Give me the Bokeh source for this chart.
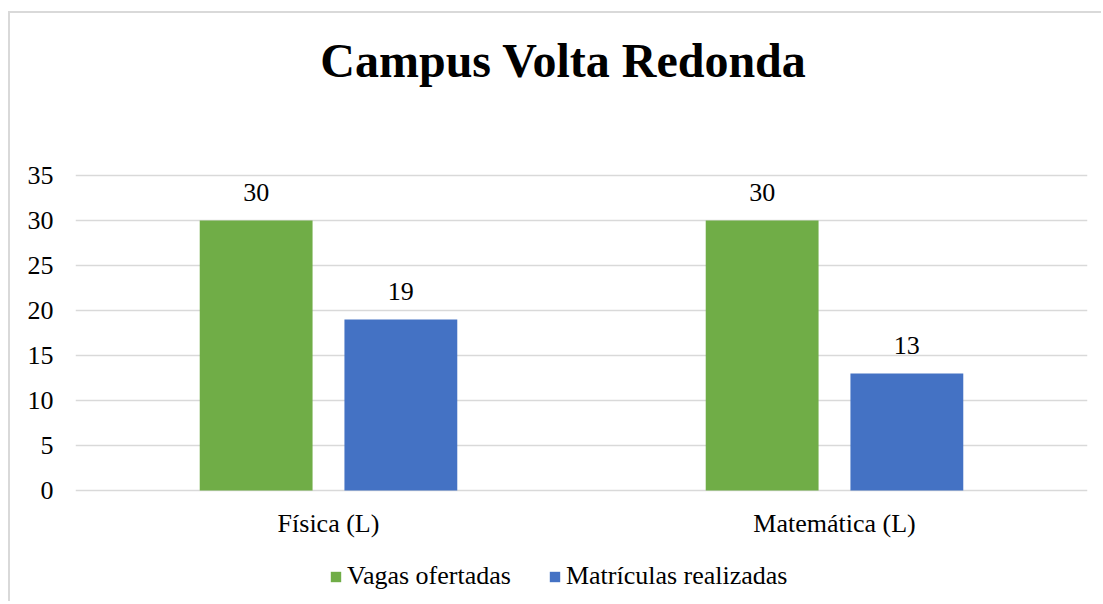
from bokeh.plotting import figure
from bokeh.models import ColumnDataSource, FactorRange, LabelSet, Label, Legend, LegendItem, Range1d
from bokeh.transform import dodge
from bokeh.embed import file_html
from bokeh.resources import INLINE

categories = ["Física (L)", "Matemática (L)"]
series_names = ["Vagas ofertadas", "Matrículas realizadas"]
vagas = [30, 30]
matriculas = [19, 13]
colors = ["#70AD47", "#4472C4"]
title_text = "Campus Volta Redonda"
y_ticks = [0, 5, 10, 15, 20, 25, 30, 35]

FONT = "Liberation Serif"
FS = "26px"

src = ColumnDataSource(dict(cat=categories, vagas=vagas, matriculas=matriculas,
                            zero=[0] * len(categories),
                            vagas_lbl=[str(v) for v in vagas],
                            mat_lbl=[str(v) for v in matriculas]))

# Frame covers the whole canvas height (9 px per unit); only 0..35 carries grid/ticks.
p = figure(x_range=FactorRange(*categories), y_range=Range1d(-12.56, 53.0),
           width=1093, height=590, output_backend="svg", toolbar_location=None,
           min_border_left=65, min_border_right=16, min_border_top=0, min_border_bottom=0)
p.styles = {"border-top": "2px solid #d9d9d9", "border-left": "2px solid #d9d9d9",
            "margin-left": "8px", "margin-top": "11px"}

title = Label(x=488, y=47.8, x_units="screen", y_units="data", text=title_text,
              text_align="center", text_baseline="alphabetic",
              text_font=FONT, text_font_size="48px", text_font_style="bold",
              text_color="#000000")
p.add_layout(title)

p.outline_line_color = None
p.background_fill_color = "white"

r1 = p.vbar(x=dodge("cat", -0.143, range=p.x_range), top="vagas", width=0.223, source=src,
            fill_color=colors[0], line_color=None)
r2 = p.vbar(x=dodge("cat", 0.143, range=p.x_range), top="matriculas", width=0.223, source=src,
            fill_color=colors[1], line_color=None)

for col, lbl, off in [("vagas", "vagas_lbl", -0.143), ("matriculas", "mat_lbl", 0.143)]:
    ls = LabelSet(x=dodge("cat", off, range=p.x_range), y=col, text=lbl, source=src,
                  text_align="center", text_baseline="alphabetic", y_offset=19,
                  text_font=FONT, text_font_size=FS, text_color="#000000")
    p.add_layout(ls)

# category labels under the zero line
cat_labels = LabelSet(x="cat", y="zero", text="cat", source=src,
                      text_align="center", text_baseline="alphabetic", y_offset=-42,
                      text_font=FONT, text_font_size=FS, text_color="#000000")
p.add_layout(cat_labels)

p.ygrid.ticker = y_ticks
p.ygrid.grid_line_color = "#d9d9d9"
p.ygrid.grid_line_width = 1.5
p.xgrid.grid_line_color = None

p.yaxis.ticker = y_ticks
p.yaxis.axis_line_color = None
p.yaxis.major_tick_line_color = None
p.yaxis.minor_tick_line_color = None
p.yaxis.major_tick_out = 0
p.yaxis.major_tick_in = 0
p.yaxis.major_label_text_font = FONT
p.yaxis.major_label_text_font_size = FS
p.yaxis.major_label_text_color = "#000000"
p.yaxis.major_label_standoff = 22

p.xaxis.visible = False

legend = Legend(items=[LegendItem(label=series_names[0], renderers=[r1]),
                       LegendItem(label=series_names[1], renderers=[r2])],
                orientation="horizontal", location=(254, 12),
                glyph_width=13, glyph_height=13, label_standoff=5, spacing=37,
                padding=0, margin=0, border_line_color=None, background_fill_alpha=0,
                label_text_font=FONT, label_text_font_size=FS, label_text_color="#000000")
p.add_layout(legend, "center")

open("out.html", "w").write(file_html(p, INLINE))
